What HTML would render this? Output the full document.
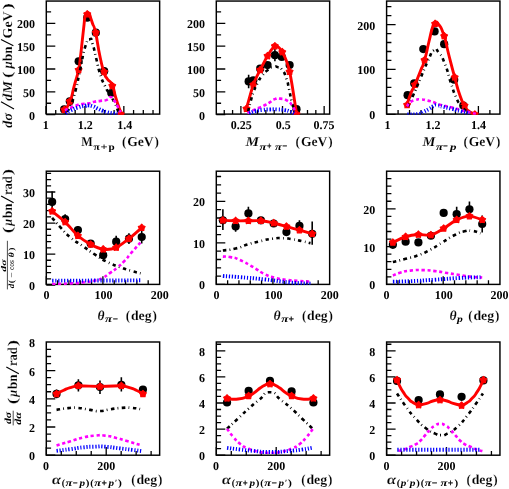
<!DOCTYPE html>
<html><head><meta charset="utf-8"><title>plots</title>
<style>
html,body{margin:0;padding:0;background:#fff;}
svg{display:block;will-change:transform;}
text{font-family:"Liberation Serif",serif;font-weight:bold;fill:#000;text-rendering:geometricPrecision;}
.t{font-size:12px;}
.a{font-size:13.6px;stroke:#fff;stroke-width:0.14px;}
.s{font-size:9.6px;}
.ss{font-size:9.4px;stroke:#000;stroke-width:0.25px;}
.f{font-size:9.3px;}
.g{font-size:8px;}
.n{font-weight:normal;}
.i{font-style:italic;}
</style></head><body>
<svg width="509" height="489" viewBox="0 0 509 489">
<rect width="509" height="489" fill="#fff"/>
<clipPath id="c00"><rect x="44.30" y="1.05" width="117.35" height="113.75"/></clipPath>
<clipPath id="c01"><rect x="214.30" y="1.05" width="117.35" height="113.75"/></clipPath>
<clipPath id="c02"><rect x="384.60" y="1.05" width="117.35" height="113.75"/></clipPath>
<clipPath id="c10"><rect x="44.30" y="171.20" width="117.35" height="113.90"/></clipPath>
<clipPath id="c11"><rect x="214.30" y="171.20" width="117.35" height="113.90"/></clipPath>
<clipPath id="c12"><rect x="384.60" y="171.20" width="117.35" height="113.90"/></clipPath>
<clipPath id="c20"><rect x="44.30" y="342.00" width="117.35" height="113.90"/></clipPath>
<clipPath id="c21"><rect x="214.30" y="342.00" width="117.35" height="113.90"/></clipPath>
<clipPath id="c22"><rect x="384.60" y="342.00" width="117.35" height="113.90"/></clipPath>
<rect x="46.30" y="1.05" width="113.35" height="113.05" fill="none" stroke="#000" stroke-width="1.45"/>
<path d="M46.30,114.65h9.00M46.30,103.24h4.80M46.30,91.83h9.00M46.30,80.42h4.80M46.30,69.01h9.00M46.30,57.60h4.80M46.30,46.19h9.00M46.30,34.78h4.80M46.30,23.37h9.00M46.30,11.96h4.80" stroke="#000" stroke-width="1.3" fill="none"/>
<rect x="216.30" y="1.05" width="113.35" height="113.05" fill="none" stroke="#000" stroke-width="1.45"/>
<path d="M216.30,114.65h9.00M216.30,103.24h4.80M216.30,91.83h9.00M216.30,80.42h4.80M216.30,69.01h9.00M216.30,57.60h4.80M216.30,46.19h9.00M216.30,34.78h4.80M216.30,23.37h9.00M216.30,11.96h4.80" stroke="#000" stroke-width="1.3" fill="none"/>
<rect x="386.60" y="1.05" width="113.35" height="113.05" fill="none" stroke="#000" stroke-width="1.45"/>
<path d="M386.60,114.35h9.00M386.60,105.37h4.80M386.60,96.39h4.80M386.60,87.41h4.80M386.60,78.43h4.80M386.60,69.45h9.00M386.60,60.47h4.80M386.60,51.49h4.80M386.60,42.51h4.80M386.60,33.53h4.80M386.60,24.55h9.00M386.60,15.57h4.80M386.60,6.59h4.80" stroke="#000" stroke-width="1.3" fill="none"/>
<path d="M46.00,114.10v-8.10M55.73,114.10v-4.10M65.46,114.10v-4.10M75.19,114.10v-4.10M84.92,114.10v-8.10M94.65,114.10v-4.10M104.38,114.10v-4.10M114.11,114.10v-4.10M123.84,114.10v-8.10M133.57,114.10v-4.10M143.30,114.10v-4.10M153.03,114.10v-4.10" stroke="#000" stroke-width="1.3" fill="none"/>
<path d="M224.25,114.10v-4.10M232.58,114.10v-4.10M240.90,114.10v-8.10M249.23,114.10v-4.10M257.55,114.10v-4.10M265.88,114.10v-4.10M274.20,114.10v-4.10M282.52,114.10v-8.10M290.85,114.10v-4.10M299.18,114.10v-4.10M307.50,114.10v-4.10M315.83,114.10v-4.10M324.15,114.10v-8.10" stroke="#000" stroke-width="1.3" fill="none"/>
<path d="M386.60,114.10v-8.10M398.08,114.10v-4.10M409.55,114.10v-4.10M421.02,114.10v-4.10M432.50,114.10v-8.10M443.98,114.10v-4.10M455.45,114.10v-4.10M466.93,114.10v-4.10M478.40,114.10v-8.10M489.88,114.10v-4.10" stroke="#000" stroke-width="1.3" fill="none"/>
<text x="35.0" y="119.65" text-anchor="end" class="t">0</text>
<text x="35.0" y="96.83" text-anchor="end" class="t">50</text>
<text x="35.0" y="74.01" text-anchor="end" class="t">100</text>
<text x="35.0" y="51.19" text-anchor="end" class="t">150</text>
<text x="35.0" y="28.37" text-anchor="end" class="t">200</text>
<text x="205.00" y="119.65" text-anchor="end" class="t">0</text>
<text x="205.00" y="96.83" text-anchor="end" class="t">50</text>
<text x="205.00" y="74.01" text-anchor="end" class="t">100</text>
<text x="205.00" y="51.19" text-anchor="end" class="t">150</text>
<text x="205.00" y="28.37" text-anchor="end" class="t">200</text>
<text x="375.30" y="119.35" text-anchor="end" class="t">0</text>
<text x="375.30" y="74.45" text-anchor="end" class="t">100</text>
<text x="375.30" y="29.55" text-anchor="end" class="t">200</text>
<text x="45.80" y="128.50" text-anchor="middle" class="t">1</text>
<text x="85.30" y="128.50" text-anchor="middle" class="t">1.2</text>
<text x="124.70" y="128.50" text-anchor="middle" class="t">1.4</text>
<text x="241.30" y="128.50" text-anchor="middle" class="t">0.25</text>
<text x="283.20" y="128.50" text-anchor="middle" class="t">0.5</text>
<text x="323.90" y="128.50" text-anchor="middle" class="t">0.75</text>
<text x="387.40" y="128.50" text-anchor="middle" class="t">1</text>
<text x="433.00" y="128.50" text-anchor="middle" class="t">1.2</text>
<text x="478.50" y="128.50" text-anchor="middle" class="t">1.4</text>
<g clip-path="url(#c00)">
<circle cx="64.16" cy="109.45" r="4.1" fill="#000"/>
<circle cx="69.80" cy="101.35" r="4.1" fill="#000"/>
<circle cx="78.64" cy="61.35" r="4.1" fill="#000"/>
<circle cx="87.23" cy="17.67" r="4.1" fill="#000"/>
<circle cx="95.82" cy="32.64" r="4.1" fill="#000"/>
<circle cx="104.16" cy="71.17" r="4.1" fill="#000"/>
<circle cx="111.28" cy="93.01" r="4.1" fill="#000"/>
<path d="M63.67,110.92 C65.71,107.89 66.29,110.18 69.80,101.84 C73.32,93.50 71.28,96.52 74.22,85.89 C77.17,75.26 76.63,78.94 78.64,69.94 C80.64,60.94 78.88,69.94 80.23,58.90 C81.58,47.85 81.42,48.26 82.69,36.81 C83.96,25.36 83.34,30.84 84.04,24.54 C84.73,18.24 84.12,21.35 84.77,17.91 C85.43,14.48 85.02,15.95 86.00,14.23 C86.98,12.52 86.57,12.76 87.72,12.76 C88.86,12.76 88.45,12.52 89.44,14.23 C90.42,15.95 89.60,14.72 90.66,17.91 C91.73,21.10 90.99,18.90 92.63,23.80 C94.26,28.71 93.12,21.76 95.57,32.64 C98.02,43.52 97.12,43.19 99.99,56.44 C102.85,69.69 101.71,64.87 104.16,72.39 C106.61,79.92 104.65,74.76 107.35,79.02 C110.05,83.27 109.39,78.77 112.26,85.15 C115.12,91.53 113.08,89.16 115.94,98.16 C118.80,107.16 118.39,106.83 120.85,112.15 C123.30,117.46 122.48,113.46 123.30,114.11" fill="none" stroke="#ff0000" stroke-width="2.9" stroke-linejoin="round"/>
<path d="M64.40,106.09 L65.87,107.67 L67.83,108.58 L66.78,110.47 L66.52,112.61 L64.40,112.19 L62.29,112.61 L62.03,110.47 L60.98,108.58 L62.94,107.67Z" fill="#ff0000" stroke="#ff0000" stroke-width="1.1" stroke-linejoin="round"/>
<path d="M69.80,97.75 L71.27,99.33 L73.23,100.24 L72.18,102.12 L71.92,104.26 L69.80,103.85 L67.69,104.26 L67.43,102.12 L66.38,100.24 L68.33,99.33Z" fill="#ff0000" stroke="#ff0000" stroke-width="1.1" stroke-linejoin="round"/>
<path d="M78.64,66.34 L80.11,67.92 L82.06,68.83 L81.02,70.71 L80.75,72.85 L78.64,72.44 L76.52,72.85 L76.26,70.71 L75.21,68.83 L77.17,67.92Z" fill="#ff0000" stroke="#ff0000" stroke-width="1.1" stroke-linejoin="round"/>
<path d="M87.23,10.63 L88.70,12.21 L90.65,13.12 L89.60,15.01 L89.34,17.15 L87.23,16.73 L85.11,17.15 L84.85,15.01 L83.80,13.12 L85.76,12.21Z" fill="#ff0000" stroke="#ff0000" stroke-width="1.1" stroke-linejoin="round"/>
<path d="M95.82,29.04 L97.29,30.62 L99.24,31.53 L98.19,33.41 L97.93,35.55 L95.82,35.14 L93.70,35.55 L93.44,33.41 L92.39,31.53 L94.35,30.62Z" fill="#ff0000" stroke="#ff0000" stroke-width="1.1" stroke-linejoin="round"/>
<path d="M104.16,68.30 L105.63,69.88 L107.58,70.79 L106.54,72.67 L106.28,74.81 L104.16,74.40 L102.04,74.81 L101.78,72.67 L100.74,70.79 L102.69,69.88Z" fill="#ff0000" stroke="#ff0000" stroke-width="1.1" stroke-linejoin="round"/>
<path d="M112.26,82.29 L113.73,83.87 L115.68,84.78 L114.64,86.66 L114.37,88.80 L112.26,88.39 L110.14,88.80 L109.88,86.66 L108.83,84.78 L110.79,83.87Z" fill="#ff0000" stroke="#ff0000" stroke-width="1.1" stroke-linejoin="round"/>
<path d="M120.85,110.76 L122.32,112.33 L124.27,113.24 L123.22,115.13 L122.96,117.27 L120.85,116.86 L118.73,117.27 L118.47,115.13 L117.42,113.24 L119.38,112.33Z" fill="#ff0000" stroke="#ff0000" stroke-width="1.1" stroke-linejoin="round"/>
<path d="M66.86,111.66 C68.09,109.61 67.68,112.47 70.54,105.52 C73.40,98.57 72.18,103.07 75.45,90.80 C78.72,78.53 77.08,83.44 80.36,68.71 C83.63,53.99 82.16,56.44 85.26,46.63 C88.37,36.81 87.23,40.08 89.68,39.26 C92.13,38.45 90.42,37.63 92.63,44.17 C94.83,50.72 93.85,49.08 96.31,58.90 C98.76,68.71 97.12,64.62 99.99,73.62 C102.85,82.62 101.62,78.94 104.90,85.89 C108.17,92.84 106.53,88.75 109.80,94.48 C113.08,100.20 111.85,97.34 114.71,103.07 C117.57,108.79 117.17,108.79 118.39,111.66" fill="none" stroke="#000" stroke-width="2.6" stroke-dasharray="3.5 3.3 0.8 3.4"/>
<path d="M64.82,110.18 C66.89,109.28 67.16,109.08 71.03,107.48 C74.90,105.89 72.75,106.54 76.43,105.40 C80.11,104.25 77.90,104.74 82.07,104.05 C86.25,103.35 84.85,104.09 88.94,103.31 C93.03,102.54 90.50,102.54 94.34,101.72 C98.19,100.90 96.31,101.47 100.48,100.86 C104.65,100.25 103.38,101.10 106.86,99.88 C110.34,98.65 108.45,96.93 110.91,97.18 C113.36,97.42 111.93,97.42 114.22,100.61 C116.51,103.80 115.65,102.86 117.78,106.75 C119.91,110.63 119.66,110.43 120.60,112.27" fill="none" stroke="#ff00ff" stroke-width="2.6" stroke-dasharray="3.2 2.7"/>
<path d="M65.63,113.37 C67.27,112.39 66.45,112.39 70.54,110.43 C74.63,108.47 72.99,109.04 77.90,107.48 C82.81,105.93 81.83,106.46 85.26,105.77 C88.70,105.07 85.75,105.24 88.21,105.40 C90.66,105.56 89.52,105.24 92.63,106.26 C95.73,107.28 94.26,106.99 97.53,108.47 C100.81,109.94 99.58,109.53 102.44,110.67 C105.30,111.82 102.44,111.00 106.12,111.90 C109.80,112.80 109.39,112.72 113.48,113.37 C117.57,114.03 116.76,113.70 118.39,113.87" fill="none" stroke="#0000ff" stroke-width="3.9" stroke-dasharray="1.25 1.75"/>
</g>
<g clip-path="url(#c01)">
<path d="M248.64,74.85V88.34" stroke="#000" stroke-width="1.6"/>
<path d="M274.90,49.08V61.35" stroke="#000" stroke-width="1.6"/>
<circle cx="248.64" cy="81.47" r="4.1" fill="#000"/>
<circle cx="253.30" cy="80.25" r="4.1" fill="#000"/>
<circle cx="260.17" cy="68.71" r="4.1" fill="#000"/>
<circle cx="267.53" cy="65.03" r="4.1" fill="#000"/>
<circle cx="274.90" cy="55.21" r="4.1" fill="#000"/>
<circle cx="281.77" cy="56.93" r="4.1" fill="#000"/>
<circle cx="289.62" cy="65.03" r="4.1" fill="#000"/>
<circle cx="296.49" cy="109.20" r="4.1" fill="#000"/>
<path d="M246.43,108.71 C247.44,105.18 251.29,90.35 253.30,84.66 C255.32,78.98 258.08,74.15 260.17,69.94 C262.26,65.73 265.37,59.44 267.53,55.95 C269.69,52.46 272.74,46.71 274.90,46.13 C277.06,45.56 280.10,48.28 282.26,52.02 C284.42,55.77 287.53,62.66 289.62,71.66 C291.71,80.65 295.48,107.26 296.49,113.37" fill="none" stroke="#ff0000" stroke-width="2.9" stroke-linejoin="round"/>
<path d="M246.43,105.11 L247.90,106.69 L249.85,107.60 L248.81,109.48 L248.55,111.62 L246.43,111.21 L244.31,111.62 L244.05,109.48 L243.01,107.60 L244.96,106.69Z" fill="#ff0000" stroke="#ff0000" stroke-width="1.1" stroke-linejoin="round"/>
<path d="M253.30,81.06 L254.77,82.64 L256.72,83.55 L255.68,85.44 L255.42,87.58 L253.30,87.16 L251.18,87.58 L250.92,85.44 L249.88,83.55 L251.83,82.64Z" fill="#ff0000" stroke="#ff0000" stroke-width="1.1" stroke-linejoin="round"/>
<path d="M260.17,66.34 L261.64,67.92 L263.60,68.83 L262.55,70.71 L262.29,72.85 L260.17,72.44 L258.06,72.85 L257.79,70.71 L256.75,68.83 L258.70,67.92Z" fill="#ff0000" stroke="#ff0000" stroke-width="1.1" stroke-linejoin="round"/>
<path d="M267.53,52.35 L269.00,53.93 L270.96,54.84 L269.91,56.72 L269.65,58.86 L267.53,58.45 L265.42,58.86 L265.16,56.72 L264.11,54.84 L266.06,53.93Z" fill="#ff0000" stroke="#ff0000" stroke-width="1.1" stroke-linejoin="round"/>
<path d="M274.90,42.53 L276.37,44.11 L278.32,45.02 L277.27,46.91 L277.01,49.05 L274.90,48.63 L272.78,49.05 L272.52,46.91 L271.47,45.02 L273.43,44.11Z" fill="#ff0000" stroke="#ff0000" stroke-width="1.1" stroke-linejoin="round"/>
<path d="M282.26,48.42 L283.73,50.00 L285.68,50.91 L284.64,52.80 L284.37,54.94 L282.26,54.52 L280.14,54.94 L279.88,52.80 L278.83,50.91 L280.79,50.00Z" fill="#ff0000" stroke="#ff0000" stroke-width="1.1" stroke-linejoin="round"/>
<path d="M289.62,68.06 L291.09,69.63 L293.04,70.54 L292.00,72.43 L291.74,74.57 L289.62,74.16 L287.50,74.57 L287.24,72.43 L286.20,70.54 L288.15,69.63Z" fill="#ff0000" stroke="#ff0000" stroke-width="1.1" stroke-linejoin="round"/>
<path d="M296.49,110.51 L297.96,112.09 L299.91,113.00 L298.87,114.88 L298.61,117.02 L296.49,116.61 L294.37,117.02 L294.11,114.88 L293.07,113.00 L295.02,112.09Z" fill="#ff0000" stroke="#ff0000" stroke-width="1.1" stroke-linejoin="round"/>
<path d="M248.15,111.41 C249.02,107.94 249.03,107.37 250.77,101.01 C252.52,94.64 251.06,98.40 253.37,92.32 C255.69,86.24 254.82,88.27 257.72,82.77 C260.61,77.28 258.59,80.17 262.06,75.83 C265.53,71.48 264.07,72.64 268.12,69.74 C272.17,66.85 271.02,68.01 274.21,67.14 C277.40,66.27 275.08,66.27 277.69,67.14 C280.30,68.01 279.14,65.98 282.04,69.74 C284.93,73.51 284.07,72.07 286.38,78.43 C288.70,84.79 287.25,81.31 288.98,88.83 C290.72,96.36 289.85,94.05 291.58,101.01 C293.32,107.96 293.32,106.80 294.18,109.69" fill="none" stroke="#000" stroke-width="2.6" stroke-dasharray="3.5 3.3 0.8 3.4"/>
<path d="M247.41,113.13 C249.37,112.15 249.37,111.98 253.30,110.18 C257.23,108.38 255.26,109.45 259.19,107.73 C263.12,106.01 261.56,106.83 265.08,105.03 C268.60,103.23 266.47,104.29 269.74,102.33 C273.01,100.37 271.38,100.37 274.90,99.14 C278.41,97.91 276.20,98.16 280.29,98.65 C284.38,99.14 283.24,98.32 287.17,100.61 C291.09,102.90 289.21,101.43 292.07,105.52 C294.94,109.61 294.53,110.43 295.75,112.88" fill="none" stroke="#ff00ff" stroke-width="2.6" stroke-dasharray="3.2 2.7"/>
<path d="M249.13,113.37 C251.17,112.64 250.76,112.31 255.26,111.17 C259.76,110.02 257.72,110.51 262.63,109.94 C267.53,109.37 265.08,109.61 269.99,109.45 C274.90,109.28 272.44,109.20 277.35,109.45 C282.26,109.69 280.62,109.53 284.71,110.18 C288.80,110.84 286.35,110.27 289.62,111.41 C292.89,112.56 292.89,112.88 294.53,113.62" fill="none" stroke="#0000ff" stroke-width="3.9" stroke-dasharray="1.25 1.75"/>
</g>
<g clip-path="url(#c02)">
<circle cx="407.60" cy="95.21" r="4.1" fill="#000"/>
<circle cx="414.22" cy="83.44" r="4.1" fill="#000"/>
<circle cx="423.30" cy="49.08" r="4.1" fill="#000"/>
<circle cx="434.59" cy="31.41" r="4.1" fill="#000"/>
<circle cx="444.16" cy="44.17" r="4.1" fill="#000"/>
<circle cx="454.22" cy="79.75" r="4.1" fill="#000"/>
<circle cx="463.30" cy="105.52" r="4.1" fill="#000"/>
<path d="M407.10,104.91 C408.25,101.27 407.92,100.74 410.54,93.99 C413.16,87.24 411.69,92.27 414.96,84.66 C418.23,77.06 417.17,79.35 420.36,71.17 C423.55,62.99 421.66,69.94 424.53,60.12 C427.39,50.31 426.25,52.76 428.94,41.72 C431.64,30.67 430.58,33.13 432.63,26.99 C434.67,20.86 433.03,24.13 435.08,23.31 C437.12,22.49 435.73,20.29 438.76,24.54 C441.79,28.79 440.89,26.26 444.16,36.07 C447.43,45.89 445.06,40.25 448.58,53.99 C452.09,67.73 451.03,63.80 454.71,77.30 C458.39,90.80 456.35,85.07 459.62,94.48 C462.89,103.89 461.26,99.80 464.53,105.52 C467.80,111.25 465.75,108.96 469.44,111.66 C473.12,114.36 473.53,112.97 475.57,113.62" fill="none" stroke="#ff0000" stroke-width="2.9" stroke-linejoin="round"/>
<path d="M407.10,101.31 L408.57,102.89 L410.53,103.80 L409.48,105.68 L409.22,107.82 L407.10,107.41 L404.99,107.82 L404.73,105.68 L403.68,103.80 L405.63,102.89Z" fill="#ff0000" stroke="#ff0000" stroke-width="1.1" stroke-linejoin="round"/>
<path d="M414.96,81.06 L416.43,82.64 L418.38,83.55 L417.33,85.44 L417.07,87.58 L414.96,87.16 L412.84,87.58 L412.58,85.44 L411.53,83.55 L413.49,82.64Z" fill="#ff0000" stroke="#ff0000" stroke-width="1.1" stroke-linejoin="round"/>
<path d="M424.53,56.52 L426.00,58.10 L427.95,59.01 L426.91,60.90 L426.64,63.04 L424.53,62.62 L422.41,63.04 L422.15,60.90 L421.10,59.01 L423.06,58.10Z" fill="#ff0000" stroke="#ff0000" stroke-width="1.1" stroke-linejoin="round"/>
<path d="M435.08,20.20 L436.55,21.78 L438.50,22.69 L437.46,24.58 L437.20,26.72 L435.08,26.30 L432.96,26.72 L432.70,24.58 L431.66,22.69 L433.61,21.78Z" fill="#ff0000" stroke="#ff0000" stroke-width="1.1" stroke-linejoin="round"/>
<path d="M444.16,32.47 L445.63,34.05 L447.58,34.96 L446.54,36.85 L446.28,38.99 L444.16,38.57 L442.04,38.99 L441.78,36.85 L440.74,34.96 L442.69,34.05Z" fill="#ff0000" stroke="#ff0000" stroke-width="1.1" stroke-linejoin="round"/>
<path d="M454.71,73.70 L456.18,75.28 L458.14,76.19 L457.09,78.07 L456.83,80.21 L454.71,79.80 L452.60,80.21 L452.33,78.07 L451.29,76.19 L453.24,75.28Z" fill="#ff0000" stroke="#ff0000" stroke-width="1.1" stroke-linejoin="round"/>
<path d="M464.53,101.92 L466.00,103.50 L467.95,104.41 L466.91,106.29 L466.64,108.43 L464.53,108.02 L462.41,108.43 L462.15,106.29 L461.10,104.41 L463.06,103.50Z" fill="#ff0000" stroke="#ff0000" stroke-width="1.1" stroke-linejoin="round"/>
<path d="M474.83,110.76 L476.30,112.33 L478.26,113.24 L477.21,115.13 L476.95,117.27 L474.83,116.86 L472.72,117.27 L472.46,115.13 L471.41,113.24 L473.36,112.33Z" fill="#ff0000" stroke="#ff0000" stroke-width="1.1" stroke-linejoin="round"/>
<path d="M407.60,106.75 C409.39,103.07 408.74,105.11 412.99,95.71 C417.25,86.30 415.45,89.98 420.36,78.53 C425.26,67.08 423.22,70.76 427.72,61.35 C432.22,51.94 430.17,53.17 433.85,50.31 C437.53,47.44 435.08,48.26 438.76,52.76 C442.44,57.26 440.81,53.58 444.90,63.80 C448.99,74.03 447.35,72.39 451.03,83.44 C454.71,94.48 452.67,89.57 455.94,96.93 C459.21,104.29 457.17,100.61 460.85,105.52 C464.53,110.43 464.94,109.61 466.98,111.66" fill="none" stroke="#000" stroke-width="2.6" stroke-dasharray="3.5 3.3 0.8 3.4"/>
<path d="M407.10,106.50 C407.68,105.52 407.55,105.14 408.82,103.56 C410.09,101.98 408.70,102.99 410.91,101.77 C413.12,100.54 412.13,100.67 415.45,99.88 C418.76,99.08 416.67,99.14 420.85,99.39 C425.02,99.63 423.63,99.63 427.96,100.61 C432.30,101.60 429.93,100.97 433.85,102.33 C437.78,103.70 433.61,102.99 439.74,104.71 C445.88,106.43 445.06,105.62 452.26,107.48 C459.46,109.35 455.37,108.63 461.34,110.31 C467.31,111.98 465.35,111.33 470.17,112.52 C475.00,113.70 473.93,113.42 475.82,113.87" fill="none" stroke="#ff00ff" stroke-width="2.6" stroke-dasharray="3.2 2.7"/>
<path d="M407.35,114.36 C411.11,114.23 413.32,114.84 418.64,113.99 C423.96,113.14 419.78,113.52 423.30,111.80 C426.82,110.09 425.67,110.76 429.19,108.83 C432.71,106.90 431.32,107.16 433.85,106.01 C436.39,104.87 434.59,105.40 436.80,105.40 C439.01,105.40 438.35,105.56 440.48,106.01 C442.61,106.46 439.25,105.77 443.18,106.75 C447.10,107.73 446.20,107.44 452.26,108.96 C458.31,110.47 455.37,109.90 461.34,111.29 C467.31,112.68 467.23,112.52 470.17,113.13" fill="none" stroke="#0000ff" stroke-width="3.9" stroke-dasharray="1.25 1.75"/>
</g>
<rect x="46.30" y="171.20" width="113.35" height="113.20" fill="none" stroke="#000" stroke-width="1.45"/>
<path d="M46.30,285.08h9.00M46.30,278.88h4.80M46.30,272.67h4.80M46.30,266.46h4.80M46.30,260.26h4.80M46.30,254.05h9.00M46.30,247.85h4.80M46.30,241.64h4.80M46.30,235.44h4.80M46.30,229.23h4.80M46.30,223.03h9.00M46.30,216.82h4.80M46.30,210.62h4.80M46.30,204.41h4.80M46.30,198.21h4.80M46.30,192.00h9.00M46.30,185.80h4.80M46.30,179.59h4.80M46.30,173.39h4.80" stroke="#000" stroke-width="1.3" fill="none"/>
<path d="M46.30,284.40v-8.10M57.62,284.40v-4.10M68.94,284.40v-4.10M80.26,284.40v-4.10M91.58,284.40v-4.10M102.90,284.40v-8.10M114.22,284.40v-4.10M125.54,284.40v-4.10M136.86,284.40v-4.10M148.18,284.40v-4.10" stroke="#000" stroke-width="1.3" fill="none"/>
<rect x="216.30" y="171.20" width="113.35" height="113.20" fill="none" stroke="#000" stroke-width="1.45"/>
<path d="M216.30,284.40h9.00M216.30,276.10h4.80M216.30,267.80h4.80M216.30,259.50h4.80M216.30,251.20h4.80M216.30,242.90h9.00M216.30,234.60h4.80M216.30,226.30h4.80M216.30,218.00h4.80M216.30,209.70h4.80M216.30,201.40h9.00M216.30,193.10h4.80M216.30,184.80h4.80M216.30,176.50h4.80" stroke="#000" stroke-width="1.3" fill="none"/>
<path d="M216.30,284.40v-8.10M227.62,284.40v-4.10M238.94,284.40v-4.10M250.26,284.40v-4.10M261.58,284.40v-4.10M272.90,284.40v-8.10M284.22,284.40v-4.10M295.54,284.40v-4.10M306.86,284.40v-4.10M318.18,284.40v-4.10" stroke="#000" stroke-width="1.3" fill="none"/>
<rect x="386.60" y="171.20" width="113.35" height="113.20" fill="none" stroke="#000" stroke-width="1.45"/>
<path d="M386.60,284.40h9.00M386.60,276.84h4.80M386.60,269.28h4.80M386.60,261.72h4.80M386.60,254.16h4.80M386.60,246.60h9.00M386.60,239.04h4.80M386.60,231.48h4.80M386.60,223.92h4.80M386.60,216.36h4.80M386.60,208.80h9.00M386.60,201.24h4.80M386.60,193.68h4.80M386.60,186.12h4.80M386.60,178.56h4.80" stroke="#000" stroke-width="1.3" fill="none"/>
<path d="M386.60,284.40v-8.10M397.92,284.40v-4.10M409.24,284.40v-4.10M420.56,284.40v-4.10M431.88,284.40v-4.10M443.20,284.40v-8.10M454.52,284.40v-4.10M465.84,284.40v-4.10M477.16,284.40v-4.10M488.48,284.40v-4.10" stroke="#000" stroke-width="1.3" fill="none"/>
<text x="35.0" y="290.08" text-anchor="end" class="t">0</text>
<text x="35.0" y="259.05" text-anchor="end" class="t">10</text>
<text x="35.0" y="228.03" text-anchor="end" class="t">20</text>
<text x="35.0" y="197.00" text-anchor="end" class="t">30</text>
<text x="205.00" y="289.40" text-anchor="end" class="t">0</text>
<text x="205.00" y="247.90" text-anchor="end" class="t">10</text>
<text x="205.00" y="206.40" text-anchor="end" class="t">20</text>
<text x="375.30" y="289.40" text-anchor="end" class="t">0</text>
<text x="375.30" y="251.60" text-anchor="end" class="t">10</text>
<text x="375.30" y="213.80" text-anchor="end" class="t">20</text>
<text x="46.40" y="298.80" text-anchor="middle" class="t">0</text>
<text x="103.60" y="298.80" text-anchor="middle" class="t">100</text>
<text x="159.70" y="298.80" text-anchor="middle" class="t">200</text>
<text x="216.40" y="298.80" text-anchor="middle" class="t">0</text>
<text x="273.60" y="298.80" text-anchor="middle" class="t">100</text>
<text x="329.70" y="298.80" text-anchor="middle" class="t">200</text>
<text x="386.60" y="298.80" text-anchor="middle" class="t">0</text>
<text x="443.80" y="298.80" text-anchor="middle" class="t">100</text>
<text x="499.60" y="298.80" text-anchor="middle" class="t">200</text>
<g clip-path="url(#c10)">
<path d="M52.13,191.60V211.72" stroke="#000" stroke-width="1.6"/>
<path d="M65.14,214.17V223.99" stroke="#000" stroke-width="1.6"/>
<path d="M77.90,225.95V234.29" stroke="#000" stroke-width="1.6"/>
<path d="M116.18,235.77V247.55" stroke="#000" stroke-width="1.6"/>
<path d="M128.94,233.31V244.11" stroke="#000" stroke-width="1.6"/>
<path d="M141.71,230.86V243.62" stroke="#000" stroke-width="1.6"/>
<circle cx="52.13" cy="201.90" r="4.1" fill="#000"/>
<circle cx="65.14" cy="219.08" r="4.1" fill="#000"/>
<circle cx="77.90" cy="230.12" r="4.1" fill="#000"/>
<circle cx="90.66" cy="243.62" r="4.1" fill="#000"/>
<circle cx="103.18" cy="255.15" r="4.1" fill="#000"/>
<circle cx="116.18" cy="241.66" r="4.1" fill="#000"/>
<circle cx="128.94" cy="238.71" r="4.1" fill="#000"/>
<circle cx="141.71" cy="236.99" r="4.1" fill="#000"/>
<path d="M52.13,211.23 C54.04,212.81 61.36,218.43 65.14,222.02 C68.92,225.62 74.16,232.49 77.90,235.77 C81.64,239.04 86.96,242.38 90.66,244.36 C94.37,246.34 99.43,248.80 103.18,249.26 C106.92,249.73 112.40,249.09 116.18,247.55 C119.96,246.00 125.20,241.63 128.94,238.71 C132.69,235.80 139.83,229.29 141.71,227.67" fill="none" stroke="#ff0000" stroke-width="2.9" stroke-linejoin="round"/>
<path d="M52.13,207.63 L53.60,209.20 L55.56,210.11 L54.51,212.00 L54.25,214.14 L52.13,213.73 L50.02,214.14 L49.76,212.00 L48.71,210.11 L50.67,209.20Z" fill="#ff0000" stroke="#ff0000" stroke-width="1.1" stroke-linejoin="round"/>
<path d="M65.14,218.42 L66.61,220.00 L68.56,220.91 L67.52,222.80 L67.26,224.94 L65.14,224.52 L63.03,224.94 L62.76,222.80 L61.72,220.91 L63.67,220.00Z" fill="#ff0000" stroke="#ff0000" stroke-width="1.1" stroke-linejoin="round"/>
<path d="M77.90,232.17 L79.37,233.74 L81.33,234.65 L80.28,236.54 L80.02,238.68 L77.90,238.27 L75.79,238.68 L75.52,236.54 L74.48,234.65 L76.43,233.74Z" fill="#ff0000" stroke="#ff0000" stroke-width="1.1" stroke-linejoin="round"/>
<path d="M90.66,240.76 L92.13,242.33 L94.09,243.24 L93.04,245.13 L92.78,247.27 L90.66,246.86 L88.55,247.27 L88.28,245.13 L87.24,243.24 L89.19,242.33Z" fill="#ff0000" stroke="#ff0000" stroke-width="1.1" stroke-linejoin="round"/>
<path d="M103.18,245.66 L104.65,247.24 L106.60,248.15 L105.56,250.04 L105.29,252.18 L103.18,251.76 L101.06,252.18 L100.80,250.04 L99.75,248.15 L101.71,247.24Z" fill="#ff0000" stroke="#ff0000" stroke-width="1.1" stroke-linejoin="round"/>
<path d="M116.18,243.95 L117.65,245.52 L119.61,246.43 L118.56,248.32 L118.30,250.46 L116.18,250.05 L114.07,250.46 L113.81,248.32 L112.76,246.43 L114.71,245.52Z" fill="#ff0000" stroke="#ff0000" stroke-width="1.1" stroke-linejoin="round"/>
<path d="M128.94,235.11 L130.41,236.69 L132.37,237.60 L131.32,239.48 L131.06,241.62 L128.94,241.21 L126.83,241.62 L126.57,239.48 L125.52,237.60 L127.48,236.69Z" fill="#ff0000" stroke="#ff0000" stroke-width="1.1" stroke-linejoin="round"/>
<path d="M141.71,224.07 L143.17,225.65 L145.13,226.56 L144.08,228.44 L143.82,230.58 L141.71,230.17 L139.59,230.58 L139.33,228.44 L138.28,226.56 L140.24,225.65Z" fill="#ff0000" stroke="#ff0000" stroke-width="1.1" stroke-linejoin="round"/>
<path d="M52.13,217.85 C55.00,221.12 54.59,221.12 60.72,227.67 C66.86,234.21 63.18,231.35 70.54,237.48 C77.90,243.62 74.63,240.35 82.81,246.07 C90.99,251.80 86.90,249.35 95.08,254.66 C103.26,259.98 99.17,257.93 107.35,262.02 C115.53,266.11 111.44,263.91 119.62,266.93 C127.80,269.96 124.53,268.90 131.89,271.10 C139.25,273.31 138.43,272.74 141.71,273.56" fill="none" stroke="#000" stroke-width="2.6" stroke-dasharray="3.5 3.3 0.8 3.4"/>
<path d="M52.13,284.11 C58.27,283.87 60.31,283.95 70.54,283.37 C80.76,282.80 74.63,283.37 82.81,282.39 C90.99,281.41 88.54,281.90 95.08,280.43 C101.62,278.96 97.53,280.43 102.44,277.98 C107.35,275.52 104.90,276.50 109.80,273.07 C114.71,269.63 112.26,271.76 117.17,267.67 C122.07,263.58 119.62,265.95 124.53,260.80 C129.44,255.64 126.16,258.75 131.89,252.21 C137.62,245.66 138.43,244.85 141.71,241.17" fill="none" stroke="#ff00ff" stroke-width="2.6" stroke-dasharray="3.2 2.7"/>
<path d="M52.13,280.67 C66.45,280.63 65.22,280.67 95.08,280.55 C124.94,280.43 126.16,280.39 141.71,280.31" fill="none" stroke="#0000ff" stroke-width="3.9" stroke-dasharray="1.25 1.75"/>
</g>
<g clip-path="url(#c11)">
<path d="M222.87,209.26V230.12" stroke="#000" stroke-width="1.6"/>
<path d="M235.63,221.53V231.84" stroke="#000" stroke-width="1.6"/>
<path d="M248.39,206.81V219.57" stroke="#000" stroke-width="1.6"/>
<path d="M299.44,220.31V231.35" stroke="#000" stroke-width="1.6"/>
<path d="M312.20,221.53V244.85" stroke="#000" stroke-width="1.6"/>
<circle cx="222.87" cy="220.31" r="4.1" fill="#000"/>
<circle cx="235.63" cy="226.44" r="4.1" fill="#000"/>
<circle cx="248.39" cy="213.44" r="4.1" fill="#000"/>
<circle cx="260.91" cy="220.31" r="4.1" fill="#000"/>
<circle cx="273.67" cy="223.50" r="4.1" fill="#000"/>
<circle cx="286.43" cy="232.09" r="4.1" fill="#000"/>
<circle cx="299.44" cy="225.95" r="4.1" fill="#000"/>
<circle cx="312.20" cy="233.80" r="4.1" fill="#000"/>
<path d="M222.87,220.31 C224.74,220.38 231.89,220.73 235.63,220.80 C239.38,220.87 244.69,220.80 248.39,220.80 C252.10,220.80 257.20,220.47 260.91,220.80 C264.62,221.12 269.93,222.18 273.67,223.01 C277.41,223.83 282.65,225.40 286.43,226.44 C290.21,227.49 295.66,229.04 299.44,230.12 C303.21,231.20 310.32,233.26 312.20,233.80" fill="none" stroke="#ff0000" stroke-width="2.9" stroke-linejoin="round"/>
<path d="M222.87,216.71 L224.34,218.28 L226.29,219.19 L225.25,221.08 L224.99,223.22 L222.87,222.81 L220.76,223.22 L220.49,221.08 L219.45,219.19 L221.40,218.28Z" fill="#ff0000" stroke="#ff0000" stroke-width="1.1" stroke-linejoin="round"/>
<path d="M235.63,217.20 L237.10,218.78 L239.06,219.69 L238.01,221.57 L237.75,223.71 L235.63,223.30 L233.52,223.71 L233.25,221.57 L232.21,219.69 L234.16,218.78Z" fill="#ff0000" stroke="#ff0000" stroke-width="1.1" stroke-linejoin="round"/>
<path d="M248.39,217.20 L249.86,218.78 L251.82,219.69 L250.77,221.57 L250.51,223.71 L248.39,223.30 L246.28,223.71 L246.01,221.57 L244.97,219.69 L246.92,218.78Z" fill="#ff0000" stroke="#ff0000" stroke-width="1.1" stroke-linejoin="round"/>
<path d="M260.91,217.20 L262.38,218.78 L264.33,219.69 L263.29,221.57 L263.02,223.71 L260.91,223.30 L258.79,223.71 L258.53,221.57 L257.48,219.69 L259.44,218.78Z" fill="#ff0000" stroke="#ff0000" stroke-width="1.1" stroke-linejoin="round"/>
<path d="M273.67,219.41 L275.14,220.98 L277.09,221.89 L276.05,223.78 L275.78,225.92 L273.67,225.51 L271.55,225.92 L271.29,223.78 L270.24,221.89 L272.20,220.98Z" fill="#ff0000" stroke="#ff0000" stroke-width="1.1" stroke-linejoin="round"/>
<path d="M286.43,222.84 L287.90,224.42 L289.85,225.33 L288.81,227.21 L288.55,229.35 L286.43,228.94 L284.31,229.35 L284.05,227.21 L283.01,225.33 L284.96,224.42Z" fill="#ff0000" stroke="#ff0000" stroke-width="1.1" stroke-linejoin="round"/>
<path d="M299.44,226.52 L300.91,228.10 L302.86,229.01 L301.81,230.90 L301.55,233.04 L299.44,232.62 L297.32,233.04 L297.06,230.90 L296.01,229.01 L297.97,228.10Z" fill="#ff0000" stroke="#ff0000" stroke-width="1.1" stroke-linejoin="round"/>
<path d="M312.20,230.20 L313.67,231.78 L315.62,232.69 L314.57,234.58 L314.31,236.72 L312.20,236.30 L310.08,236.72 L309.82,234.58 L308.77,232.69 L310.73,231.78Z" fill="#ff0000" stroke="#ff0000" stroke-width="1.1" stroke-linejoin="round"/>
<path d="M222.87,250.49 C227.12,249.84 227.29,250.57 235.63,248.53 C243.98,246.48 239.72,246.81 247.90,244.36 C256.08,241.90 251.99,243.05 260.17,241.17 C268.35,239.28 265.08,239.69 272.44,238.71 C279.80,237.73 275.71,238.06 282.26,238.22 C288.80,238.38 285.53,238.22 292.07,239.20 C298.62,240.18 295.75,239.86 301.89,241.17 C308.02,242.47 307.62,242.47 310.48,243.13" fill="none" stroke="#000" stroke-width="2.6" stroke-dasharray="3.5 3.3 0.8 3.4"/>
<path d="M222.87,256.63 C225.49,256.79 224.83,255.89 230.72,257.12 C236.61,258.34 233.18,257.03 240.54,260.31 C247.90,263.58 244.63,262.27 252.81,266.93 C260.99,271.60 257.72,270.70 265.08,274.29 C272.44,277.89 267.53,275.85 274.90,277.73 C282.26,279.61 278.99,278.88 287.17,279.94 C295.35,281.00 291.66,280.35 299.44,280.92 C307.21,281.49 306.80,281.41 310.48,281.66" fill="none" stroke="#ff00ff" stroke-width="2.6" stroke-dasharray="3.2 2.7"/>
<path d="M222.87,276.01 C228.76,276.42 226.47,276.09 240.54,277.24 C254.61,278.38 248.72,277.73 265.08,279.45 C281.44,281.17 274.49,281.00 289.62,282.39 C304.75,283.78 303.53,283.21 310.48,283.62" fill="none" stroke="#0000ff" stroke-width="3.9" stroke-dasharray="1.25 1.75"/>
</g>
<g clip-path="url(#c12)">
<path d="M456.67,206.81V219.08" stroke="#000" stroke-width="1.6"/>
<path d="M469.44,201.41V215.64" stroke="#000" stroke-width="1.6"/>
<path d="M482.20,215.40V232.58" stroke="#000" stroke-width="1.6"/>
<circle cx="392.87" cy="244.85" r="4.1" fill="#000"/>
<circle cx="405.63" cy="241.66" r="4.1" fill="#000"/>
<circle cx="418.39" cy="242.39" r="4.1" fill="#000"/>
<circle cx="430.91" cy="235.77" r="4.1" fill="#000"/>
<circle cx="443.67" cy="212.94" r="4.1" fill="#000"/>
<circle cx="456.67" cy="214.17" r="4.1" fill="#000"/>
<circle cx="469.44" cy="209.26" r="4.1" fill="#000"/>
<circle cx="482.20" cy="223.99" r="4.1" fill="#000"/>
<path d="M392.87,242.39 C394.74,241.56 401.89,237.90 405.63,236.75 C409.38,235.60 414.69,234.79 418.39,234.54 C422.10,234.29 427.20,235.93 430.91,235.03 C434.62,234.13 439.89,230.64 443.67,228.40 C447.45,226.17 452.90,221.62 456.67,219.82 C460.45,218.02 465.69,216.13 469.44,216.13 C473.18,216.13 480.32,219.28 482.20,219.82" fill="none" stroke="#ff0000" stroke-width="2.9" stroke-linejoin="round"/>
<path d="M392.87,238.79 L394.34,240.37 L396.29,241.28 L395.25,243.17 L394.99,245.31 L392.87,244.89 L390.76,245.31 L390.49,243.17 L389.45,241.28 L391.40,240.37Z" fill="#ff0000" stroke="#ff0000" stroke-width="1.1" stroke-linejoin="round"/>
<path d="M405.63,233.15 L407.10,234.73 L409.06,235.64 L408.01,237.52 L407.75,239.66 L405.63,239.25 L403.52,239.66 L403.25,237.52 L402.21,235.64 L404.16,234.73Z" fill="#ff0000" stroke="#ff0000" stroke-width="1.1" stroke-linejoin="round"/>
<path d="M418.39,230.94 L419.86,232.52 L421.82,233.43 L420.77,235.31 L420.51,237.45 L418.39,237.04 L416.28,237.45 L416.01,235.31 L414.97,233.43 L416.92,232.52Z" fill="#ff0000" stroke="#ff0000" stroke-width="1.1" stroke-linejoin="round"/>
<path d="M430.91,231.43 L432.38,233.01 L434.33,233.92 L433.29,235.80 L433.02,237.94 L430.91,237.53 L428.79,237.94 L428.53,235.80 L427.48,233.92 L429.44,233.01Z" fill="#ff0000" stroke="#ff0000" stroke-width="1.1" stroke-linejoin="round"/>
<path d="M443.67,224.80 L445.14,226.38 L447.09,227.29 L446.05,229.18 L445.78,231.32 L443.67,230.90 L441.55,231.32 L441.29,229.18 L440.24,227.29 L442.20,226.38Z" fill="#ff0000" stroke="#ff0000" stroke-width="1.1" stroke-linejoin="round"/>
<path d="M456.67,216.22 L458.14,217.79 L460.10,218.70 L459.05,220.59 L458.79,222.73 L456.67,222.32 L454.56,222.73 L454.30,220.59 L453.25,218.70 L455.21,217.79Z" fill="#ff0000" stroke="#ff0000" stroke-width="1.1" stroke-linejoin="round"/>
<path d="M469.44,212.53 L470.91,214.11 L472.86,215.02 L471.81,216.91 L471.55,219.05 L469.44,218.63 L467.32,219.05 L467.06,216.91 L466.01,215.02 L467.97,214.11Z" fill="#ff0000" stroke="#ff0000" stroke-width="1.1" stroke-linejoin="round"/>
<path d="M482.20,216.22 L483.67,217.79 L485.62,218.70 L484.57,220.59 L484.31,222.73 L482.20,222.32 L480.08,222.73 L479.82,220.59 L478.77,218.70 L480.73,217.79Z" fill="#ff0000" stroke="#ff0000" stroke-width="1.1" stroke-linejoin="round"/>
<path d="M392.87,262.02 C397.12,260.96 397.29,261.04 405.63,258.83 C413.98,256.63 409.72,258.43 417.90,255.40 C426.08,252.37 421.99,254.09 430.17,249.75 C438.35,245.42 434.26,247.30 442.44,242.39 C450.62,237.48 447.35,238.71 454.71,235.03 C462.07,231.35 458.80,232.74 464.53,231.35 C470.25,229.96 466.57,230.20 471.89,230.86 C477.21,231.51 477.62,232.49 480.48,233.31" fill="none" stroke="#000" stroke-width="2.6" stroke-dasharray="3.5 3.3 0.8 3.4"/>
<path d="M392.87,275.52 C395.49,274.54 394.83,274.21 400.72,272.58 C406.61,270.94 403.18,271.43 410.54,270.61 C417.90,269.80 414.63,269.96 422.81,270.12 C430.99,270.29 426.90,270.12 435.08,271.10 C443.26,272.09 439.17,271.76 447.35,273.07 C455.53,274.38 451.44,273.80 459.62,275.03 C467.80,276.26 464.36,275.93 471.89,276.75 C479.42,277.57 478.76,277.24 482.20,277.48" fill="none" stroke="#ff00ff" stroke-width="2.6" stroke-dasharray="3.2 2.7"/>
<path d="M392.87,281.66 C398.76,281.49 396.47,281.82 410.54,281.17 C424.61,280.51 418.72,280.76 435.08,279.69 C451.44,278.63 444.49,278.79 459.62,277.98 C474.75,277.16 473.53,277.48 480.48,277.24" fill="none" stroke="#0000ff" stroke-width="3.9" stroke-dasharray="1.25 1.75"/>
</g>
<rect x="46.30" y="342.00" width="113.35" height="113.20" fill="none" stroke="#000" stroke-width="1.45"/>
<path d="M46.30,455.20h9.00M46.30,448.15h4.80M46.30,441.10h4.80M46.30,434.05h4.80M46.30,427.00h9.00M46.30,419.95h4.80M46.30,412.90h4.80M46.30,405.85h4.80M46.30,398.80h9.00M46.30,391.75h4.80M46.30,384.70h4.80M46.30,377.65h4.80M46.30,370.60h9.00M46.30,363.55h4.80M46.30,356.50h4.80M46.30,349.45h4.80" stroke="#000" stroke-width="1.3" fill="none"/>
<path d="M46.30,455.20v-8.10M61.27,455.20v-4.10M76.25,455.20v-4.10M91.22,455.20v-4.10M106.20,455.20v-8.10M121.17,455.20v-4.10M136.15,455.20v-4.10M151.12,455.20v-4.10" stroke="#000" stroke-width="1.3" fill="none"/>
<rect x="216.30" y="342.00" width="113.35" height="113.20" fill="none" stroke="#000" stroke-width="1.45"/>
<path d="M216.30,455.20h9.00M216.30,448.68h4.80M216.30,442.15h4.80M216.30,435.62h4.80M216.30,429.10h9.00M216.30,422.57h4.80M216.30,416.05h4.80M216.30,409.52h4.80M216.30,403.00h9.00M216.30,396.47h4.80M216.30,389.95h4.80M216.30,383.42h4.80M216.30,376.90h9.00M216.30,370.38h4.80M216.30,363.85h4.80M216.30,357.32h4.80M216.30,350.80h9.00M216.30,344.27h4.80" stroke="#000" stroke-width="1.3" fill="none"/>
<path d="M216.30,455.20v-8.10M231.28,455.20v-4.10M246.25,455.20v-4.10M261.23,455.20v-4.10M276.20,455.20v-8.10M291.18,455.20v-4.10M306.15,455.20v-4.10M321.12,455.20v-4.10" stroke="#000" stroke-width="1.3" fill="none"/>
<rect x="386.60" y="342.00" width="113.35" height="113.20" fill="none" stroke="#000" stroke-width="1.45"/>
<path d="M386.60,455.20h9.00M386.60,448.68h4.80M386.60,442.15h4.80M386.60,435.62h4.80M386.60,429.10h9.00M386.60,422.57h4.80M386.60,416.05h4.80M386.60,409.52h4.80M386.60,403.00h9.00M386.60,396.47h4.80M386.60,389.95h4.80M386.60,383.42h4.80M386.60,376.90h9.00M386.60,370.38h4.80M386.60,363.85h4.80M386.60,357.32h4.80M386.60,350.80h9.00M386.60,344.27h4.80" stroke="#000" stroke-width="1.3" fill="none"/>
<path d="M386.60,455.20v-8.10M401.58,455.20v-4.10M416.55,455.20v-4.10M431.53,455.20v-4.10M446.50,455.20v-8.10M461.48,455.20v-4.10M476.45,455.20v-4.10M491.43,455.20v-4.10" stroke="#000" stroke-width="1.3" fill="none"/>
<text x="35.0" y="460.20" text-anchor="end" class="t">0</text>
<text x="35.0" y="432.00" text-anchor="end" class="t">2</text>
<text x="35.0" y="403.80" text-anchor="end" class="t">4</text>
<text x="35.0" y="375.60" text-anchor="end" class="t">6</text>
<text x="35.0" y="347.40" text-anchor="end" class="t">8</text>
<text x="205.00" y="460.20" text-anchor="end" class="t">0</text>
<text x="205.00" y="434.10" text-anchor="end" class="t">2</text>
<text x="205.00" y="408.00" text-anchor="end" class="t">4</text>
<text x="205.00" y="381.90" text-anchor="end" class="t">6</text>
<text x="205.00" y="355.80" text-anchor="end" class="t">8</text>
<text x="375.30" y="460.20" text-anchor="end" class="t">0</text>
<text x="375.30" y="434.10" text-anchor="end" class="t">2</text>
<text x="375.30" y="408.00" text-anchor="end" class="t">4</text>
<text x="375.30" y="381.90" text-anchor="end" class="t">6</text>
<text x="375.30" y="355.80" text-anchor="end" class="t">8</text>
<text x="46.10" y="469.60" text-anchor="middle" class="t">0</text>
<text x="106.20" y="469.60" text-anchor="middle" class="t">200</text>
<text x="216.10" y="469.60" text-anchor="middle" class="t">0</text>
<text x="276.20" y="469.60" text-anchor="middle" class="t">200</text>
<text x="386.60" y="469.60" text-anchor="middle" class="t">0</text>
<text x="446.60" y="469.60" text-anchor="middle" class="t">200</text>
<g clip-path="url(#c20)">
<path d="M56.55,389.48V398.31" stroke="#000" stroke-width="1.6"/>
<path d="M78.39,379.17V391.44" stroke="#000" stroke-width="1.6"/>
<path d="M99.99,380.40V393.90" stroke="#000" stroke-width="1.6"/>
<path d="M121.34,377.21V391.44" stroke="#000" stroke-width="1.6"/>
<circle cx="56.55" cy="393.90" r="4.1" fill="#000"/>
<circle cx="78.39" cy="385.31" r="4.1" fill="#000"/>
<circle cx="99.99" cy="387.02" r="4.1" fill="#000"/>
<circle cx="121.34" cy="384.82" r="4.1" fill="#000"/>
<circle cx="142.93" cy="389.48" r="4.1" fill="#000"/>
<path d="M56.55,393.90 C58.76,392.75 58.52,392.59 63.18,390.46 C67.84,388.33 65.47,389.07 70.54,387.52 C75.61,385.96 75.78,386.37 78.39,385.80 M78.39,385.80 C85.59,386.04 92.79,386.29 99.99,386.53 M99.99,386.53 C107.10,386.29 114.22,386.04 121.34,385.80 M121.34,385.80 C124.04,386.37 124.28,385.96 129.44,387.52 C134.59,389.07 132.30,388.33 136.80,390.46 C141.30,392.59 140.89,392.75 142.93,393.90" fill="none" stroke="#ff0000" stroke-width="2.9" stroke-linejoin="round"/>
<path d="M56.55,390.30 L58.02,391.87 L59.98,392.78 L58.93,394.67 L58.67,396.81 L56.55,396.40 L54.44,396.81 L54.17,394.67 L53.13,392.78 L55.08,391.87Z" fill="#ff0000" stroke="#ff0000" stroke-width="1.1" stroke-linejoin="round"/>
<path d="M78.39,382.20 L79.86,383.78 L81.82,384.69 L80.77,386.57 L80.51,388.71 L78.39,388.30 L76.28,388.71 L76.01,386.57 L74.97,384.69 L76.92,383.78Z" fill="#ff0000" stroke="#ff0000" stroke-width="1.1" stroke-linejoin="round"/>
<path d="M99.99,382.93 L101.46,384.51 L103.41,385.42 L102.37,387.31 L102.10,389.45 L99.99,389.03 L97.87,389.45 L97.61,387.31 L96.56,385.42 L98.52,384.51Z" fill="#ff0000" stroke="#ff0000" stroke-width="1.1" stroke-linejoin="round"/>
<path d="M121.34,382.20 L122.81,383.78 L124.76,384.69 L123.72,386.57 L123.45,388.71 L121.34,388.30 L119.22,388.71 L118.96,386.57 L117.91,384.69 L119.87,383.78Z" fill="#ff0000" stroke="#ff0000" stroke-width="1.1" stroke-linejoin="round"/>
<path d="M142.93,390.30 L144.40,391.87 L146.36,392.78 L145.31,394.67 L145.05,396.81 L142.93,396.40 L140.82,396.81 L140.55,394.67 L139.51,392.78 L141.46,391.87Z" fill="#ff0000" stroke="#ff0000" stroke-width="1.1" stroke-linejoin="round"/>
<path d="M56.55,409.85 C60.40,409.27 60.97,408.78 68.09,408.13 C75.20,407.47 70.54,407.31 77.90,407.88 C85.26,408.46 82.81,408.78 90.17,409.85 C97.53,410.91 93.44,411.24 99.99,411.07 C106.53,410.91 102.44,410.42 109.80,409.36 C117.17,408.29 114.71,408.37 122.07,407.88 C129.44,407.39 125.35,407.39 131.89,407.88 C138.43,408.37 138.43,408.87 141.71,409.36" fill="none" stroke="#000" stroke-width="2.6" stroke-dasharray="3.5 3.3 0.8 3.4"/>
<path d="M56.55,445.43 C61.21,444.04 61.79,443.88 70.54,441.26 C79.29,438.64 74.63,439.46 82.81,437.58 C90.99,435.70 87.72,436.27 95.08,435.61 C102.44,434.96 98.35,434.96 104.90,435.61 C111.44,436.27 107.35,435.78 114.71,437.58 C122.07,439.38 117.98,438.39 126.98,441.01 C135.98,443.63 136.80,443.96 141.71,445.43" fill="none" stroke="#ff00ff" stroke-width="2.6" stroke-dasharray="3.2 2.7"/>
<path d="M56.55,450.83 C61.21,450.26 61.79,450.26 70.54,449.11 C79.29,447.97 74.63,448.21 82.81,447.39 C90.99,446.57 87.72,446.90 95.08,446.66 C102.44,446.41 96.72,446.08 104.90,446.66 C113.08,447.23 110.62,447.31 119.62,448.37 C128.62,449.44 124.53,448.95 131.89,449.85 C139.25,450.75 138.43,450.66 141.71,451.07" fill="none" stroke="#0000ff" stroke-width="3.9" stroke-dasharray="1.25 1.75"/>
</g>
<g clip-path="url(#c21)">
<circle cx="227.04" cy="402.48" r="4.1" fill="#000"/>
<circle cx="248.64" cy="390.95" r="4.1" fill="#000"/>
<circle cx="269.99" cy="380.89" r="4.1" fill="#000"/>
<circle cx="291.58" cy="391.44" r="4.1" fill="#000"/>
<circle cx="313.42" cy="402.48" r="4.1" fill="#000"/>
<path d="M227.04,398.31 C230.72,398.56 230.89,399.87 238.09,399.05 C245.28,398.23 242.91,398.23 248.64,395.86 C254.36,393.49 251.42,394.55 255.26,391.93 C259.11,389.31 256.90,390.30 260.17,388.01 C263.44,385.72 261.81,386.37 265.08,385.06 C268.35,383.75 266.72,384.08 269.99,384.08 C273.26,384.08 271.62,383.75 274.90,385.06 C278.17,386.37 276.53,385.72 279.80,388.01 C283.08,390.30 280.79,389.31 284.71,391.93 C288.64,394.55 285.86,393.49 291.58,395.86 C297.31,398.23 294.61,398.23 301.89,399.05 C309.17,399.87 309.58,398.56 313.42,398.31" fill="none" stroke="#ff0000" stroke-width="2.9" stroke-linejoin="round"/>
<path d="M227.04,394.71 L228.51,396.29 L230.47,397.20 L229.42,399.09 L229.16,401.23 L227.04,400.81 L224.93,401.23 L224.67,399.09 L223.62,397.20 L225.57,396.29Z" fill="#ff0000" stroke="#ff0000" stroke-width="1.1" stroke-linejoin="round"/>
<path d="M248.64,392.26 L250.11,393.84 L252.06,394.75 L251.02,396.63 L250.75,398.77 L248.64,398.36 L246.52,398.77 L246.26,396.63 L245.21,394.75 L247.17,393.84Z" fill="#ff0000" stroke="#ff0000" stroke-width="1.1" stroke-linejoin="round"/>
<path d="M269.99,380.48 L271.46,382.06 L273.41,382.97 L272.37,384.85 L272.10,386.99 L269.99,386.58 L267.87,386.99 L267.61,384.85 L266.56,382.97 L268.52,382.06Z" fill="#ff0000" stroke="#ff0000" stroke-width="1.1" stroke-linejoin="round"/>
<path d="M291.58,392.26 L293.05,393.84 L295.01,394.75 L293.96,396.63 L293.70,398.77 L291.58,398.36 L289.47,398.77 L289.21,396.63 L288.16,394.75 L290.11,393.84Z" fill="#ff0000" stroke="#ff0000" stroke-width="1.1" stroke-linejoin="round"/>
<path d="M313.42,394.71 L314.89,396.29 L316.85,397.20 L315.80,399.09 L315.54,401.23 L313.42,400.81 L311.31,401.23 L311.05,399.09 L310.00,397.20 L311.95,396.29Z" fill="#ff0000" stroke="#ff0000" stroke-width="1.1" stroke-linejoin="round"/>
<path d="M227.04,428.74 C230.72,425.31 230.89,425.14 238.09,418.44 C245.28,411.73 241.69,414.75 248.64,408.62 C255.59,402.48 251.83,405.51 258.94,400.03 C266.06,394.55 262.63,392.18 269.99,392.18 C277.35,392.18 273.83,394.55 281.03,400.03 C288.23,405.51 284.63,402.48 291.58,408.62 C298.54,414.75 295.02,411.89 301.89,418.44 C308.76,424.98 308.76,424.98 312.20,428.25" fill="none" stroke="#000" stroke-width="2.6" stroke-dasharray="3.5 3.3 0.8 3.4"/>
<path d="M227.04,428.74 C229.09,431.44 228.68,431.69 233.18,436.84 C237.68,441.99 235.63,440.36 240.54,444.20 C245.45,448.05 242.18,445.92 247.90,448.37 C253.63,450.83 250.36,450.09 257.72,451.56 C265.08,453.04 261.81,452.79 269.99,452.79 C278.17,452.79 274.90,453.04 282.26,451.56 C289.62,450.09 286.35,450.83 292.07,448.37 C297.80,445.92 294.53,448.05 299.44,444.20 C304.34,440.36 302.30,441.99 306.80,436.84 C311.30,431.69 310.89,431.44 312.93,428.74" fill="none" stroke="#ff00ff" stroke-width="2.6" stroke-dasharray="3.2 2.7"/>
<path d="M227.04,447.88 C231.54,448.46 231.95,448.62 240.54,449.60 C249.13,450.58 242.99,450.01 252.81,450.83 C262.63,451.65 257.72,452.06 269.99,452.06 C282.26,452.06 278.99,451.65 289.62,450.83 C300.25,450.01 294.53,450.58 301.89,449.60 C309.25,448.62 308.43,448.46 311.71,447.88" fill="none" stroke="#0000ff" stroke-width="3.9" stroke-dasharray="1.25 1.75"/>
</g>
<g clip-path="url(#c22)">
<circle cx="397.04" cy="380.89" r="4.1" fill="#000"/>
<circle cx="418.64" cy="400.03" r="4.1" fill="#000"/>
<circle cx="439.99" cy="394.39" r="4.1" fill="#000"/>
<circle cx="461.58" cy="396.84" r="4.1" fill="#000"/>
<circle cx="483.42" cy="380.40" r="4.1" fill="#000"/>
<path d="M397.04,379.91 C397.78,381.63 397.12,380.89 399.25,385.06 C401.38,389.23 400.40,387.92 403.42,392.42 C406.45,396.92 405.06,395.12 408.33,398.56 C411.60,401.99 409.72,400.52 413.24,402.73 C416.76,404.94 417.00,404.37 418.88,405.18 M418.88,405.18 C421.50,404.61 422.07,404.86 426.74,403.47 C431.40,402.08 428.45,402.24 432.87,401.01 C437.29,399.79 437.62,400.19 439.99,399.79 M439.99,399.79 C442.36,400.19 442.69,399.79 447.10,401.01 C451.52,402.24 448.41,401.99 453.24,403.47 C458.07,404.94 458.80,404.78 461.58,405.43 M461.58,405.43 C463.38,404.53 463.55,405.02 466.98,402.73 C470.42,400.44 468.62,401.99 471.89,398.56 C475.16,395.12 473.77,396.92 476.80,392.42 C479.82,387.92 478.76,389.23 480.97,385.06 C483.18,380.89 482.61,381.63 483.42,379.91" fill="none" stroke="#ff0000" stroke-width="2.9" stroke-linejoin="round"/>
<path d="M397.04,376.31 L398.51,377.89 L400.47,378.80 L399.42,380.68 L399.16,382.82 L397.04,382.41 L394.93,382.82 L394.67,380.68 L393.62,378.80 L395.57,377.89Z" fill="#ff0000" stroke="#ff0000" stroke-width="1.1" stroke-linejoin="round"/>
<path d="M418.64,401.34 L420.11,402.92 L422.06,403.83 L421.02,405.71 L420.75,407.85 L418.64,407.44 L416.52,407.85 L416.26,405.71 L415.21,403.83 L417.17,402.92Z" fill="#ff0000" stroke="#ff0000" stroke-width="1.1" stroke-linejoin="round"/>
<path d="M439.99,396.43 L441.46,398.01 L443.41,398.92 L442.37,400.80 L442.10,402.94 L439.99,402.53 L437.87,402.94 L437.61,400.80 L436.56,398.92 L438.52,398.01Z" fill="#ff0000" stroke="#ff0000" stroke-width="1.1" stroke-linejoin="round"/>
<path d="M461.58,401.83 L463.05,403.41 L465.01,404.32 L463.96,406.20 L463.70,408.34 L461.58,407.93 L459.47,408.34 L459.21,406.20 L458.16,404.32 L460.11,403.41Z" fill="#ff0000" stroke="#ff0000" stroke-width="1.1" stroke-linejoin="round"/>
<path d="M483.42,376.31 L484.89,377.89 L486.85,378.80 L485.80,380.68 L485.54,382.82 L483.42,382.41 L481.31,382.82 L481.05,380.68 L480.00,378.80 L481.95,377.89Z" fill="#ff0000" stroke="#ff0000" stroke-width="1.1" stroke-linejoin="round"/>
<path d="M397.04,393.40 C399.91,397.66 399.50,397.82 405.63,406.17 C411.77,414.51 408.90,411.24 415.45,418.44 C421.99,425.63 418.72,422.69 425.26,427.76 C431.81,432.83 429.76,431.20 435.08,433.65 C440.40,436.10 437.12,435.12 441.21,435.12 C445.30,435.12 442.03,436.35 447.35,433.65 C452.67,430.95 450.62,432.91 457.17,427.02 C463.71,421.13 460.44,424.16 466.98,415.98 C473.53,407.80 471.48,410.01 476.80,402.48 C482.11,394.96 480.89,396.43 482.93,393.40" fill="none" stroke="#000" stroke-width="2.6" stroke-dasharray="3.5 3.3 0.8 3.4"/>
<path d="M398.39,450.83 C400.48,450.34 400.68,450.70 404.65,449.36 C408.62,448.01 406.61,448.47 410.29,446.80 C413.98,445.13 412.42,446.28 415.69,444.35 C418.97,442.42 416.92,444.09 420.11,441.01 C423.30,437.94 421.91,438.97 425.26,435.12 C428.62,431.28 426.90,432.67 430.17,429.48 C433.44,426.29 431.73,427.43 435.08,425.55 C438.43,423.67 436.80,423.83 440.23,423.83 C443.67,423.83 442.03,423.67 445.39,425.55 C448.74,427.43 447.02,426.29 450.29,429.48 C453.57,432.67 451.80,431.28 455.20,435.12 C458.61,438.97 457.26,437.94 460.50,441.01 C463.74,444.09 461.65,442.42 464.92,444.35 C468.19,446.28 466.64,445.13 470.32,446.80 C474.00,448.47 471.92,447.93 475.96,449.36 C480.00,450.78 480.28,450.50 482.44,451.07" fill="none" stroke="#ff00ff" stroke-width="2.6" stroke-dasharray="3.2 2.7"/>
<path d="M397.29,449.72 C411.52,449.72 412.09,449.72 439.99,449.72 C467.88,449.72 467.31,449.72 480.97,449.72" fill="none" stroke="#0000ff" stroke-width="3.9" stroke-dasharray="1.25 1.75"/>
</g>
<text x="81.20" y="145.90" textLength="11.50" lengthAdjust="spacingAndGlyphs" class="a">M</text>
<text x="93.60" y="149.70" textLength="6.20" lengthAdjust="spacingAndGlyphs" class="s">π</text>
<text x="100.60" y="149.70" textLength="7.10" lengthAdjust="spacingAndGlyphs" class="s">+</text>
<text x="108.60" y="149.70" textLength="6.20" lengthAdjust="spacingAndGlyphs" class="s">p</text>
<text x="121.90" y="145.90" textLength="4.40" lengthAdjust="spacingAndGlyphs" class="a">(</text>
<text x="127.20" y="145.90" textLength="26.50" lengthAdjust="spacingAndGlyphs" class="a">GeV</text>
<text x="154.60" y="145.90" textLength="4.40" lengthAdjust="spacingAndGlyphs" class="a">)</text>
<text x="245.50" y="145.90" textLength="13.60" lengthAdjust="spacingAndGlyphs" class="a i">M</text>
<text x="259.60" y="149.70" textLength="6.90" lengthAdjust="spacingAndGlyphs" class="s i">π</text>
<text x="266.90" y="149.20" textLength="4.50" lengthAdjust="spacingAndGlyphs" class="ss">+</text>
<text x="275.00" y="149.70" textLength="6.70" lengthAdjust="spacingAndGlyphs" class="s i">π</text>
<text x="282.20" y="149.20" textLength="5.00" lengthAdjust="spacingAndGlyphs" class="ss">−</text>
<text x="295.60" y="145.90" textLength="4.40" lengthAdjust="spacingAndGlyphs" class="a">(</text>
<text x="300.90" y="145.90" textLength="26.50" lengthAdjust="spacingAndGlyphs" class="a">GeV</text>
<text x="328.30" y="145.90" textLength="4.40" lengthAdjust="spacingAndGlyphs" class="a">)</text>
<text x="422.40" y="145.90" textLength="12.90" lengthAdjust="spacingAndGlyphs" class="a i">M</text>
<text x="435.90" y="149.70" textLength="6.80" lengthAdjust="spacingAndGlyphs" class="s i">π</text>
<text x="443.10" y="149.20" textLength="4.80" lengthAdjust="spacingAndGlyphs" class="ss">−</text>
<text x="450.10" y="149.70" textLength="6.50" lengthAdjust="spacingAndGlyphs" class="s i">p</text>
<text x="463.40" y="145.90" textLength="4.40" lengthAdjust="spacingAndGlyphs" class="a">(</text>
<text x="468.70" y="145.90" textLength="26.50" lengthAdjust="spacingAndGlyphs" class="a">GeV</text>
<text x="496.10" y="145.90" textLength="4.40" lengthAdjust="spacingAndGlyphs" class="a">)</text>
<text x="97.50" y="319.50" textLength="7.00" lengthAdjust="spacingAndGlyphs" class="a i">θ</text>
<text x="104.90" y="322.40" textLength="7.10" lengthAdjust="spacingAndGlyphs" class="s i">π</text>
<text x="112.80" y="321.60" textLength="5.20" lengthAdjust="spacingAndGlyphs" class="ss">−</text>
<text x="125.80" y="319.50" textLength="4.30" lengthAdjust="spacingAndGlyphs" class="a">(</text>
<text x="130.90" y="319.50" textLength="20.70" lengthAdjust="spacingAndGlyphs" class="a">deg</text>
<text x="152.40" y="319.50" textLength="4.40" lengthAdjust="spacingAndGlyphs" class="a">)</text>
<text x="273.60" y="319.50" textLength="7.10" lengthAdjust="spacingAndGlyphs" class="a i">θ</text>
<text x="281.20" y="322.40" textLength="7.10" lengthAdjust="spacingAndGlyphs" class="s i">π</text>
<text x="288.60" y="321.60" textLength="5.50" lengthAdjust="spacingAndGlyphs" class="ss">+</text>
<text x="301.90" y="319.50" textLength="4.30" lengthAdjust="spacingAndGlyphs" class="a">(</text>
<text x="307.00" y="319.50" textLength="20.70" lengthAdjust="spacingAndGlyphs" class="a">deg</text>
<text x="328.50" y="319.50" textLength="4.40" lengthAdjust="spacingAndGlyphs" class="a">)</text>
<text x="449.40" y="319.50" textLength="7.10" lengthAdjust="spacingAndGlyphs" class="a i">θ</text>
<text x="457.00" y="322.40" textLength="5.80" lengthAdjust="spacingAndGlyphs" class="s i">p</text>
<text x="468.30" y="319.50" textLength="4.30" lengthAdjust="spacingAndGlyphs" class="a">(</text>
<text x="473.40" y="319.50" textLength="20.70" lengthAdjust="spacingAndGlyphs" class="a">deg</text>
<text x="494.90" y="319.50" textLength="4.40" lengthAdjust="spacingAndGlyphs" class="a">)</text>
<text x="52.10" y="483.50" textLength="9.00" lengthAdjust="spacingAndGlyphs" class="a i">α</text>
<text x="61.80" y="486.10" textLength="3.20" lengthAdjust="spacingAndGlyphs" class="s">(</text>
<text x="65.50" y="486.10" textLength="6.80" lengthAdjust="spacingAndGlyphs" class="s i">π</text>
<text x="72.80" y="485.60" textLength="4.90" lengthAdjust="spacingAndGlyphs" class="ss">−</text>
<text x="79.40" y="486.10" textLength="5.60" lengthAdjust="spacingAndGlyphs" class="s i">p</text>
<text x="85.70" y="486.10" textLength="3.70" lengthAdjust="spacingAndGlyphs" class="s">)</text>
<text x="90.30" y="486.10" textLength="3.40" lengthAdjust="spacingAndGlyphs" class="s">(</text>
<text x="94.20" y="486.10" textLength="6.80" lengthAdjust="spacingAndGlyphs" class="s i">π</text>
<text x="101.50" y="485.60" textLength="5.40" lengthAdjust="spacingAndGlyphs" class="ss">+</text>
<text x="108.60" y="486.10" textLength="5.60" lengthAdjust="spacingAndGlyphs" class="s i">p</text>
<text x="114.90" y="485.60" textLength="2.20" lengthAdjust="spacingAndGlyphs" class="s">′</text>
<text x="118.10" y="486.10" textLength="3.90" lengthAdjust="spacingAndGlyphs" class="s">)</text>
<text x="131.30" y="483.50" textLength="4.30" lengthAdjust="spacingAndGlyphs" class="a">(</text>
<text x="136.40" y="483.50" textLength="20.70" lengthAdjust="spacingAndGlyphs" class="a">deg</text>
<text x="157.90" y="483.50" textLength="4.40" lengthAdjust="spacingAndGlyphs" class="a">)</text>
<text x="222.10" y="483.50" textLength="9.00" lengthAdjust="spacingAndGlyphs" class="a i">α</text>
<text x="231.80" y="486.10" textLength="3.20" lengthAdjust="spacingAndGlyphs" class="s">(</text>
<text x="235.50" y="486.10" textLength="6.80" lengthAdjust="spacingAndGlyphs" class="s i">π</text>
<text x="242.80" y="485.60" textLength="4.90" lengthAdjust="spacingAndGlyphs" class="ss">+</text>
<text x="249.40" y="486.10" textLength="5.60" lengthAdjust="spacingAndGlyphs" class="s i">p</text>
<text x="255.70" y="486.10" textLength="3.70" lengthAdjust="spacingAndGlyphs" class="s">)</text>
<text x="260.30" y="486.10" textLength="3.40" lengthAdjust="spacingAndGlyphs" class="s">(</text>
<text x="264.20" y="486.10" textLength="6.80" lengthAdjust="spacingAndGlyphs" class="s i">π</text>
<text x="271.50" y="485.60" textLength="5.40" lengthAdjust="spacingAndGlyphs" class="ss">−</text>
<text x="278.60" y="486.10" textLength="5.60" lengthAdjust="spacingAndGlyphs" class="s i">p</text>
<text x="284.90" y="485.60" textLength="2.20" lengthAdjust="spacingAndGlyphs" class="s">′</text>
<text x="288.10" y="486.10" textLength="3.90" lengthAdjust="spacingAndGlyphs" class="s">)</text>
<text x="301.30" y="483.50" textLength="4.30" lengthAdjust="spacingAndGlyphs" class="a">(</text>
<text x="306.40" y="483.50" textLength="20.70" lengthAdjust="spacingAndGlyphs" class="a">deg</text>
<text x="327.90" y="483.50" textLength="4.40" lengthAdjust="spacingAndGlyphs" class="a">)</text>
<text x="386.90" y="483.50" textLength="9.10" lengthAdjust="spacingAndGlyphs" class="a i">α</text>
<text x="396.70" y="486.10" textLength="3.40" lengthAdjust="spacingAndGlyphs" class="s">(</text>
<text x="400.80" y="486.10" textLength="5.60" lengthAdjust="spacingAndGlyphs" class="s i">p</text>
<text x="406.90" y="485.60" textLength="2.00" lengthAdjust="spacingAndGlyphs" class="s">′</text>
<text x="409.80" y="486.10" textLength="5.70" lengthAdjust="spacingAndGlyphs" class="s i">p</text>
<text x="416.20" y="486.10" textLength="3.60" lengthAdjust="spacingAndGlyphs" class="s">)</text>
<text x="420.80" y="486.10" textLength="3.40" lengthAdjust="spacingAndGlyphs" class="s">(</text>
<text x="424.70" y="486.10" textLength="6.60" lengthAdjust="spacingAndGlyphs" class="s i">π</text>
<text x="431.80" y="485.60" textLength="5.60" lengthAdjust="spacingAndGlyphs" class="ss">−</text>
<text x="440.50" y="486.10" textLength="6.90" lengthAdjust="spacingAndGlyphs" class="s i">π</text>
<text x="447.80" y="485.60" textLength="5.40" lengthAdjust="spacingAndGlyphs" class="ss">+</text>
<text x="454.40" y="486.10" textLength="3.70" lengthAdjust="spacingAndGlyphs" class="s">)</text>
<text x="466.60" y="483.50" textLength="4.30" lengthAdjust="spacingAndGlyphs" class="a">(</text>
<text x="471.70" y="483.50" textLength="20.70" lengthAdjust="spacingAndGlyphs" class="a">deg</text>
<text x="493.20" y="483.50" textLength="4.40" lengthAdjust="spacingAndGlyphs" class="a">)</text>
<text transform="translate(11.70,127.90) rotate(-90) scale(1,1.000)" textLength="15.00" lengthAdjust="spacingAndGlyphs" class="a i">dσ</text>
<path d="M14.00,109.00L1.00,101.80" stroke="#000" stroke-width="1.1"/>
<text transform="translate(11.70,101.00) rotate(-90) scale(1,1.000)" textLength="20.00" lengthAdjust="spacingAndGlyphs" class="a i">dM</text>
<text transform="translate(11.70,77.90) rotate(-90) scale(1,1.000)" textLength="6.30" lengthAdjust="spacingAndGlyphs" class="a">(</text>
<text transform="translate(11.70,68.60) rotate(-90) scale(1,1.000)" textLength="7.20" lengthAdjust="spacingAndGlyphs" class="a i">μ</text>
<text transform="translate(11.70,61.00) rotate(-90) scale(1,1.000)" textLength="14.50" lengthAdjust="spacingAndGlyphs" class="a">bn</text>
<path d="M13.40,45.70L1.00,39.40" stroke="#000" stroke-width="1.1"/>
<text transform="translate(11.70,38.50) rotate(-90) scale(1,1.000)" textLength="27.20" lengthAdjust="spacingAndGlyphs" class="a">GeV</text>
<text transform="translate(11.70,9.60) rotate(-90) scale(1,1.000)" textLength="6.40" lengthAdjust="spacingAndGlyphs" class="a">)</text>
<text transform="translate(11.70,233.30) rotate(-90) scale(1,1.000)" textLength="6.30" lengthAdjust="spacingAndGlyphs" class="a">(</text>
<text transform="translate(11.70,225.70) rotate(-90) scale(1,1.000)" textLength="6.90" lengthAdjust="spacingAndGlyphs" class="a i">μ</text>
<text transform="translate(11.70,218.10) rotate(-90) scale(1,1.000)" textLength="14.50" lengthAdjust="spacingAndGlyphs" class="a">bn</text>
<path d="M13.60,202.80L1.10,195.90" stroke="#000" stroke-width="1.1"/>
<text transform="translate(11.70,195.00) rotate(-90) scale(1,1.000)" textLength="18.60" lengthAdjust="spacingAndGlyphs" class="a">rad</text>
<text transform="translate(11.70,175.30) rotate(-90) scale(1,1.000)" textLength="6.30" lengthAdjust="spacingAndGlyphs" class="a">)</text>
<text transform="translate(16.90,404.30) rotate(-90) scale(1,1.000)" textLength="6.30" lengthAdjust="spacingAndGlyphs" class="a">(</text>
<text transform="translate(16.90,396.70) rotate(-90) scale(1,1.000)" textLength="6.90" lengthAdjust="spacingAndGlyphs" class="a i">μ</text>
<text transform="translate(16.90,389.10) rotate(-90) scale(1,1.000)" textLength="14.50" lengthAdjust="spacingAndGlyphs" class="a">bn</text>
<path d="M18.80,373.80L6.30,366.90" stroke="#000" stroke-width="1.1"/>
<text transform="translate(16.90,366.00) rotate(-90) scale(1,1.000)" textLength="18.60" lengthAdjust="spacingAndGlyphs" class="a">rad</text>
<text transform="translate(16.90,346.30) rotate(-90) scale(1,1.000)" textLength="6.30" lengthAdjust="spacingAndGlyphs" class="a">)</text>
<path d="M7.4,240.8V289.4" stroke="#000" stroke-width="0.7"/>
<text transform="translate(6.10,271.70) rotate(-90) scale(1,0.780)" textLength="12.20" lengthAdjust="spacingAndGlyphs" class="f i">dσ</text>
<text transform="translate(14.40,288.30) rotate(-90) scale(1,1.000)" textLength="4.40" lengthAdjust="spacingAndGlyphs" class="g i">d</text>
<text transform="translate(14.40,283.30) rotate(-90) scale(1,1.000)" textLength="3.30" lengthAdjust="spacingAndGlyphs" class="g">(</text>
<text transform="translate(14.40,277.80) rotate(-90) scale(1,1.000)" textLength="5.50" lengthAdjust="spacingAndGlyphs" class="g n">−</text>
<text transform="translate(14.40,270.00) rotate(-90) scale(1,1.000)" textLength="9.90" lengthAdjust="spacingAndGlyphs" class="g n">cos</text>
<text transform="translate(14.40,257.30) rotate(-90) scale(1,1.000)" textLength="4.90" lengthAdjust="spacingAndGlyphs" class="g i">θ</text>
<text transform="translate(14.40,250.70) rotate(-90) scale(1,1.000)" textLength="3.30" lengthAdjust="spacingAndGlyphs" class="g">)</text>
<path d="M13.2,410.7V425.4" stroke="#000" stroke-width="0.7"/>
<text transform="translate(11.00,424.00) rotate(-90) scale(1,1.000)" textLength="12.20" lengthAdjust="spacingAndGlyphs" class="f i">dσ</text>
<text transform="translate(21.00,424.70) rotate(-90) scale(1,1.000)" textLength="12.50" lengthAdjust="spacingAndGlyphs" class="f i">dα</text>
</svg>
</body></html>
